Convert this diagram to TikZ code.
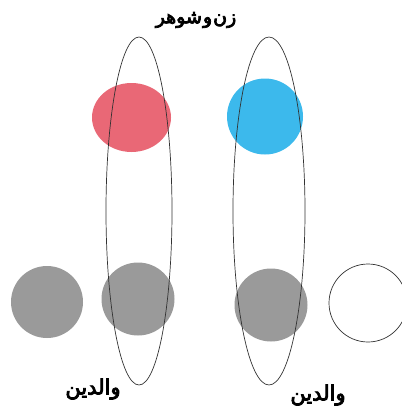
\documentclass[tikz,border=0pt]{standalone}
\usepackage{fontspec}
\usetikzlibrary{shapes.geometric}
\newfontfamily\arabicfont[Script=Arabic, FakeBold=4]{DejaVu Sans}
\TeXXeTstate=1
\definecolor{redish}{RGB}{233, 104, 118}
\definecolor{bluish}{RGB}{60, 185, 236}
\definecolor{grayish}{RGB}{154, 154, 154}
\definecolor{rim}{RGB}{50, 50, 50}

\begin{document}
\begin{tikzpicture}[x=1pt, y=-1pt]
        \useasboundingbox (0,0) rectangle (402,408);
        % Personen
        \node[circle, fill=grayish, minimum size=72pt, inner sep=0pt] (g1) at (47,302) {};
        \node[circle, fill=grayish, minimum size=73pt, inner sep=0pt] (g2) at (138,299) {};
        \node[circle, fill=grayish, minimum size=73pt, inner sep=0pt] (g3) at (271,305) {};
        \node[circle, draw=rim, line width=0.7pt, minimum size=78pt, inner sep=0pt] (w1) at (368,303) {};
        \node[ellipse, fill=redish, minimum width=79pt, minimum height=69pt, inner sep=0pt] (r1) at (131.5,117.5) {};
        \node[circle, fill=bluish, minimum size=76pt, inner sep=0pt] (b1) at (265,116.5) {};

        % Ellipsen
        \draw[rim, line width=0.7pt] (139,211) ellipse [x radius=33, y radius=174];
        \draw[rim, line width=0.7pt] (269,211) ellipse [x radius=36, y radius=174];

        % Beschriftungen
        \node[font=\arabicfont\fontsize{19}{22}\selectfont] (t1) at (196,20) {\beginR زن\hspace{1pt}و\hspace{1pt}شوهر\endR};
        \node[font=\arabicfont\fontsize{21}{24}\selectfont] (t2) at (93,389) {\beginR والدین\endR};
        \node[font=\arabicfont\fontsize{21}{24}\selectfont] (t3) at (318,395) {\beginR والدین\endR};
    \end{tikzpicture}
\end{document}
